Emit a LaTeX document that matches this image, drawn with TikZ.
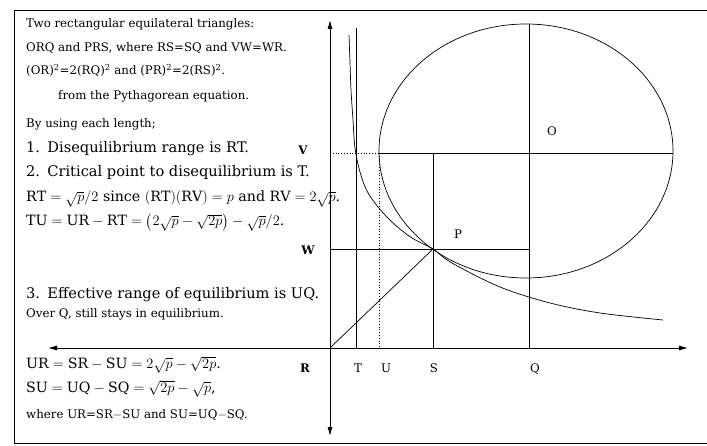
\documentclass[tikz,border=0pt]{standalone}
\usepackage{amsmath}
\usepackage{fontspec}
\setmainfont{DejaVu Serif}
\usetikzlibrary{arrows.meta}
\begin{document}
\begin{tikzpicture}[x=1pt,y=-1pt,
  >={Latex[length=9pt,width=5pt]},
  txt/.style={anchor=base west,inner sep=0pt,font=\fontsize{11.8}{13}\selectfont},
  bigtxt/.style={anchor=base west,inner sep=0pt,font=\fontsize{14.6}{16}\selectfont},
  mtxt/.style={anchor=base west,inner sep=0pt,font=\fontsize{14.2}{16}\selectfont},
  blab/.style={anchor=base,inner sep=0pt,font=\fontsize{11.8}{14}\selectfont\bfseries},
  lab/.style={anchor=base,inner sep=0pt,font=\fontsize{11.8}{14}\selectfont},
  ax/.style={line width=0.8pt},
  ln/.style={line width=0.7pt},
  dl/.style={line width=0.8pt,dotted}]
\useasboundingbox (0,0) rectangle (707,446);
\fill[white] (0,0) rectangle (707,446);
% frame
\coordinate (f1) at (707,10);
\coordinate (f2) at (14,10);
\coordinate (f3) at (14,443);
\coordinate (f4) at (707,443);
\draw[line width=0.9pt] (f1) -- (f2) -- (f3) -- (f4);
% key points
\coordinate (R) at (330,348);
\coordinate (Xl) at (48,348);
\coordinate (Xr) at (688,348);
\coordinate (Yt) at (330,20);
\coordinate (Yb) at (330,436);
\coordinate (Ttop) at (356,28);
\coordinate (Tb) at (356,348);
\coordinate (Vl) at (330,153);
\coordinate (Ve) at (379,153);
\coordinate (Vr) at (673,153);
\coordinate (Ue) at (379,153);
\coordinate (Ub) at (379,348);
\coordinate (St) at (433,153);
\coordinate (Sb) at (433,348);
\coordinate (Qt) at (529,24);
\coordinate (Qb) at (529,348);
\coordinate (Wl) at (330,249);
\coordinate (Wr) at (529,249);
\coordinate (P) at (433,249);
% axes
\draw[ax,<->] (Xl) -- (Xr);
\draw[ax,<->] (Yt) -- (Yb);
% lines
\draw[ln] (Ttop) -- (Tb);
\draw[dl] (Vl) -- (Ve);
\draw[ln] (Ve) -- (Vr);
\draw[dl] (Ue) -- (Ub);
\draw[ln] (St) -- (Sb);
\draw[ln] (Qt) -- (Qb);
\draw[ln] (Wl) -- (Wr);
\draw[ln] (R) -- (P);
% ellipse
\draw[ln] (526,151) ellipse [x radius=147pt, y radius=127pt];
% hyperbola
\draw[ln] plot[smooth,tension=0.55] coordinates {(349,35) (350,62) (351,90) (353,120) (355,148) (360,172) (367,191) (378,207) (393,223) (412,238) (433,249) (452,263) (500,287) (550,303) (600,313) (663,320)};
% labels
\node[blab] (lV) at (303,155) {V};
\node[blab] (lW) at (308,255) {W};
\node[blab] (lR) at (305,372) {R};
\node[lab] (lT) at (358,373) {T};
\node[lab] (lU) at (386,373) {U};
\node[lab] (lS) at (434,373) {S};
\node[lab] (lQ) at (535,373) {Q};
\node[lab] (lP) at (458,239) {P};
\node[lab] (lO) at (552,136) {O};
% text
\node[txt] (t1) at (26,28) {Two rectangular equilateral triangles:};
\node[txt] (t2) at (26,52) {ORQ and PRS, where RS=SQ and VW=WR.};
\node[txt] (t3) at (26,75) {(OR)\textsuperscript{2}=2(RQ)\textsuperscript{2} and (PR)\textsuperscript{2}=2(RS)\textsuperscript{2}.};
\node[txt] (t4) at (58,100) {from the Pythagorean equation.};
\node[txt] (t5) at (26,128) {By using each length;};
\node[bigtxt] (t6) at (26,153) {1.\enspace Disequilibrium range is RT.};
\node[bigtxt] (t7) at (26,177) {2.\enspace Critical point to disequilibrium is T.};
\node[mtxt] (t8) at (26,202) {$\mathrm{RT}=\sqrt{p}/2$ since $(\mathrm{RT})(\mathrm{RV})=p$ and $\mathrm{RV}=2\sqrt{p}$.};
\node[mtxt] (t9) at (26,226) {$\mathrm{TU}=\mathrm{UR}-\mathrm{RT}=\bigl(2\sqrt{p}-\sqrt{2p}\bigr)-\sqrt{p}/2$.};
\node[bigtxt] (t10) at (26,299) {3.\enspace Effective range of equilibrium is UQ.};
\node[txt] (t11) at (26,318) {Over Q, still stays in equilibrium.};
\node[mtxt] (t12) at (26,368) {$\mathrm{UR}=\mathrm{SR}-\mathrm{SU}=2\sqrt{p}-\sqrt{2p}$.};
\node[mtxt] (t13) at (26,392) {$\mathrm{SU}=\mathrm{UQ}-\mathrm{SQ}=\sqrt{2p}-\sqrt{p}$,};
\node[txt] (t14) at (26,418) {where UR=SR$-$SU and SU=UQ$-$SQ.};
\end{tikzpicture}
\end{document}
